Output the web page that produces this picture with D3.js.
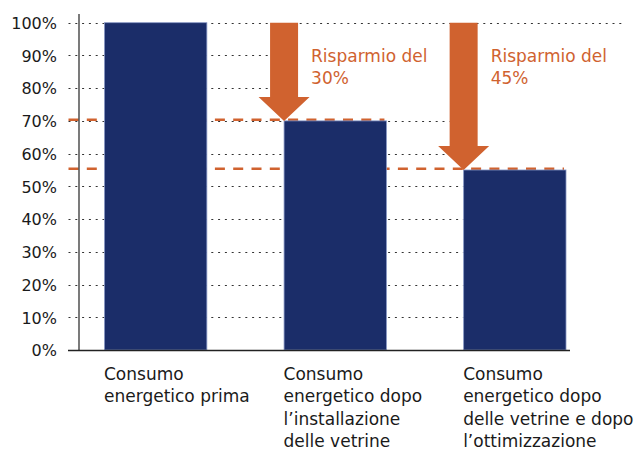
<!DOCTYPE html>
<html>
<head>
<meta charset="utf-8">
<script src="https://cdn.jsdelivr.net/npm/d3@7"></script>
<style>
  html, body { margin: 0; padding: 0; background: #fff; overflow: hidden; }
  svg { display: block; }
  text { font-family: "DejaVu Sans", sans-serif; }
</style>
</head>
<body>
<svg id="chart" width="634" height="450"></svg>
<script>
// ---- data ----
const categories = ["prima", "vetrine", "ottimizzazione"];
const categoryLabels = [
  ["Consumo", "energetico prima"],
  ["Consumo", "energetico dopo", "l\u2019installazione", "delle vetrine"],
  ["Consumo", "energetico dopo", "delle vetrine e dopo", "l\u2019ottimizzazione"]
];
const values = [100, 70, 55];
const yTicks = [0, 10, 20, 30, 40, 50, 60, 70, 80, 90, 100];
const yTickLabels = ["0%", "10%", "20%", "30%", "40%", "50%", "60%", "70%", "80%", "90%", "100%"];
const savingTargets = [1, 2];           // index of the bar each arrow points at
const savingLabels = [["Risparmio del", "30%"], ["Risparmio del", "45%"]];

// ---- layout ----
const svg = d3.select("#chart");
const orange = "#d0622f";
const navy = "#1b2d69";

const y = d3.scaleLinear().domain([0, 100]).range([350, 22.7]);
const x = d3.scaleBand().domain(categories).range([104.5, 566]).paddingInner(0.43).paddingOuter(0);

const shaftW = 28, headW = 51, headH = 24;
const gridX0 = 68.5;

// arrows geometry
const arrows = savingTargets.map((ti, i) => {
  const cx = x(categories[ti]);
  return { cx, top: y(100), tip: y(values[ti]), headTop: y(values[ti]) - headH, label: savingLabels[i] };
});

// gridlines (dotted)
const gridG = svg.append("g");
yTicks.filter(v => v > 0).forEach(v => {
  const yy = y(v);
  let x1;
  if (v === 100) x1 = 625;
  else {
    const a = arrows.find(a => yy > a.top && yy < a.headTop);
    x1 = a ? a.cx - shaftW / 2 : x(categories[categories.length - 1]);
  }
  gridG.append("line")
    .attr("x1", gridX0).attr("x2", x1)
    .attr("y1", Math.round(yy) + 0.5).attr("y2", Math.round(yy) + 0.5)
    .attr("stroke", "#333").attr("stroke-width", 1)
    .attr("stroke-dasharray", "2,4.8");
});

// dashed reference lines at the savings levels
savingTargets.forEach(ti => {
  svg.append("line")
    .attr("x1", gridX0).attr("x2", x(categories[ti]) + x.bandwidth() - 2)
    .attr("y1", y(values[ti]) - 1.2).attr("y2", y(values[ti]) - 1.2)
    .attr("stroke", orange).attr("stroke-width", 2.6)
    .attr("stroke-dasharray", "10,8.3");
});

// bars
svg.append("g").selectAll("rect").data(values).join("rect")
  .attr("x", (d, i) => x(categories[i]))
  .attr("y", d => y(d))
  .attr("width", x.bandwidth())
  .attr("height", d => y(0) - y(d))
  .attr("fill", navy)
  .attr("stroke", "#8796c4").attr("stroke-width", 0.8);

// arrows
arrows.forEach(a => {
  const p = d3.path();
  p.moveTo(a.cx - shaftW / 2, a.top);
  p.lineTo(a.cx + shaftW / 2, a.top);
  p.lineTo(a.cx + shaftW / 2, a.headTop);
  p.lineTo(a.cx + headW / 2, a.headTop);
  p.lineTo(a.cx, a.tip);
  p.lineTo(a.cx - headW / 2, a.headTop);
  p.lineTo(a.cx - shaftW / 2, a.headTop);
  p.closePath();
  svg.append("path").attr("d", p.toString()).attr("fill", orange);
  const t = svg.append("text")
    .attr("x", a.cx + 27).attr("y", 62)
    .attr("fill", orange).attr("font-size", 17);
  a.label.forEach((line, k) => {
    t.append("tspan").attr("x", a.cx + 27).attr("dy", k === 0 ? 0 : 21.5).text(line);
  });
});

// y axis line and baseline
svg.append("line").attr("x1", 79).attr("x2", 79).attr("y1", 14).attr("y2", y(0))
  .attr("stroke", "#222").attr("stroke-width", 1.2);
svg.append("line").attr("x1", 68).attr("x2", 570).attr("y1", y(0) + 0.5).attr("y2", y(0) + 0.5)
  .attr("stroke", "#222").attr("stroke-width", 1.3);

// y tick labels
const yAxis = d3.axisLeft(y).tickValues(yTicks).tickFormat((d, i) => yTickLabels[i]).tickSize(0).tickPadding(0);
const yg = svg.append("g").attr("transform", "translate(57,0)").call(yAxis);
yg.select(".domain").remove();
yg.selectAll("text")
  .attr("font-family", "DejaVu Sans, sans-serif")
  .attr("font-size", 16)
  .attr("fill", "#1a1a1a")
  .attr("dy", "0.36em");

// category labels
categories.forEach((c, i) => {
  const t = svg.append("text")
    .attr("x", x(c) - 0.5).attr("y", 380)
    .attr("font-size", 17).attr("fill", "#1a1a1a");
  categoryLabels[i].forEach((line, k) => {
    t.append("tspan").attr("x", x(c) - 0.5).attr("dy", k === 0 ? 0 : 22.3).text(line);
  });
});
</script>
</body>
</html>
